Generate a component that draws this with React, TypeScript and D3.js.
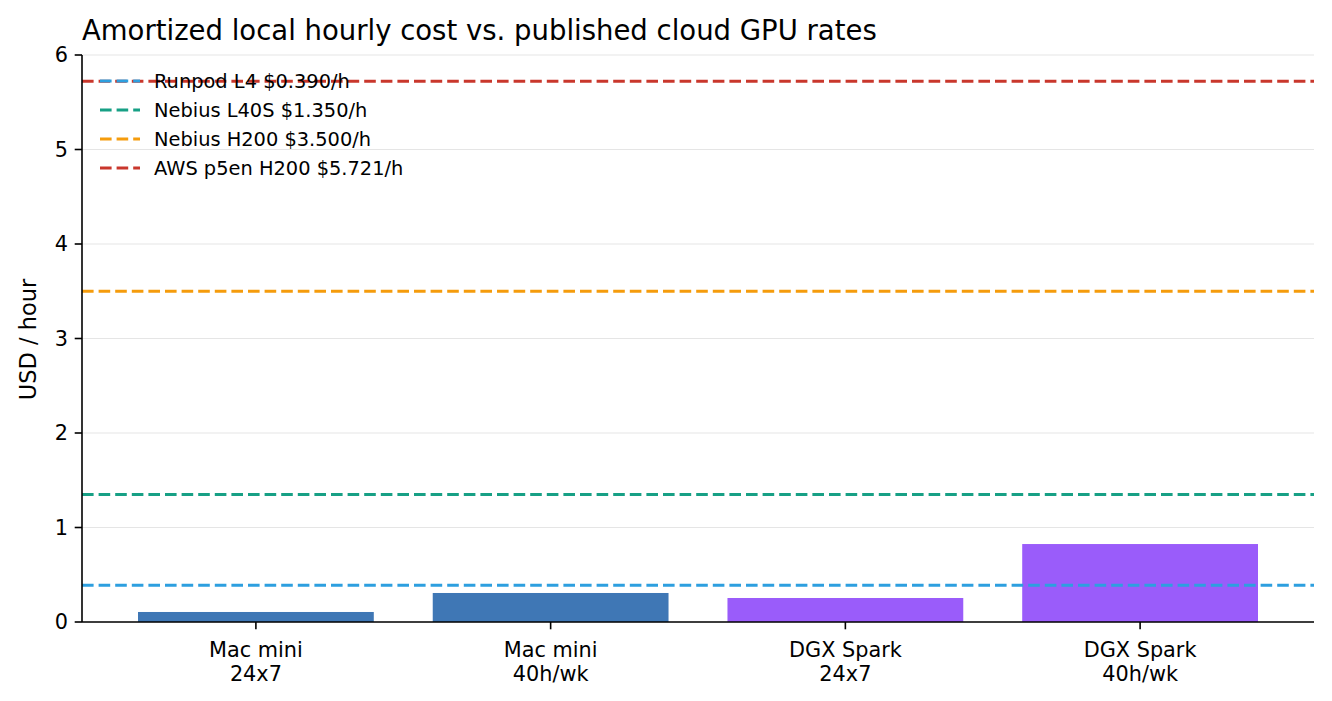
import React from "react";
import * as d3 from "d3";

const categories = ["Mac mini\n24x7", "Mac mini\n40h/wk", "DGX Spark\n24x7", "DGX Spark\n40h/wk"];
const costs = [0.106, 0.307, 0.254, 0.825];
const barColors = ["#3f77b5", "#3f77b5", "#9a5cfa", "#9a5cfa"];

const cloudNames = ["Runpod L4 $0.390/h", "Nebius L40S $1.350/h", "Nebius H200 $3.500/h", "AWS p5en H200 $5.721/h"];
const cloudRates = [0.39, 1.35, 3.5, 5.721];
const cloudColors = ["#2d9fdf", "#17a085", "#f59c0c", "#c9372c"];

const yTicks = [0, 1, 2, 3, 4, 5, 6];

const W = 1332;
const H = 701;
const left = 82;
const right = 1314;
const top = 55;
const bottom = 622;
const FONT = "DejaVu Sans, sans-serif";

export default function App() {
  const x = d3.scaleBand<string>().domain(categories).range([left, right]).paddingInner(0.2).paddingOuter(0.19);
  const y = d3.scaleLinear().domain([0, 6]).range([bottom, top]);
  const dash = "11.6,5";

  return (
    <svg width={W} height={H} style={{ position: "absolute", left: 0, top: 0, background: "#fff" }} fontFamily={FONT}>
      <rect x={0} y={0} width={W} height={H} fill="#fff" />
      {/* grid */}
      {yTicks.map((t) => (
        <line key={"g" + t} x1={left} x2={right} y1={y(t)} y2={y(t)} stroke="#e5e5e5" strokeWidth={1} />
      ))}
      {/* bars */}
      {categories.map((c, i) => (
        <rect key={c} x={x(c)} y={y(costs[i])} width={x.bandwidth()} height={y(0) - y(costs[i])} fill={barColors[i]} />
      ))}
      {/* cloud lines */}
      {cloudRates.map((r, i) => (
        <line key={"c" + i} x1={left} x2={right} y1={y(r)} y2={y(r)} stroke={cloudColors[i]} strokeWidth={3} strokeDasharray={dash} />
      ))}
      {/* axes */}
      <line x1={left} x2={left} y1={top} y2={bottom} stroke="#000" strokeWidth={1.6} />
      <line x1={left} x2={right} y1={bottom} y2={bottom} stroke="#000" strokeWidth={1.6} />
      {yTicks.map((t) => (
        <g key={"t" + t}>
          <line x1={left - 7.3} x2={left} y1={y(t)} y2={y(t)} stroke="#000" strokeWidth={1.6} />
          <text x={left - 14} y={y(t)} dy="0.36em" textAnchor="end" fontSize={20.8} fill="#000">
            {t}
          </text>
        </g>
      ))}
      {categories.map((c) => {
        const cx = (x(c) as number) + x.bandwidth() / 2;
        const lines = c.split("\n");
        return (
          <g key={"x" + c}>
            <line x1={cx} x2={cx} y1={bottom} y2={bottom + 7.3} stroke="#000" strokeWidth={1.6} />
            {lines.map((l, j) => (
              <text key={j} x={cx} y={657 + j * 23.5} textAnchor="middle" fontSize={20.8} fill="#000">
                {l}
              </text>
            ))}
          </g>
        );
      })}
      <text transform={`translate(36,${(top + bottom) / 2 + 1}) rotate(-90)`} textAnchor="middle" fontSize={22.5} fill="#000">
        USD / hour
      </text>
      <text x={left} y={40} fontSize={27.5} fill="#000">
        Amortized local hourly cost vs. published cloud GPU rates
      </text>
      {/* legend */}
      {cloudNames.map((n, i) => {
        const ly = 81 + i * 29;
        return (
          <g key={"l" + i}>
            <line x1={100} x2={140} y1={ly} y2={ly} stroke={cloudColors[i]} strokeWidth={3} strokeDasharray={dash} />
            <text x={154} y={ly + 7} fontSize={19.4} fill="#000">
              {n}
            </text>
          </g>
        );
      })}
    </svg>
  );
}
